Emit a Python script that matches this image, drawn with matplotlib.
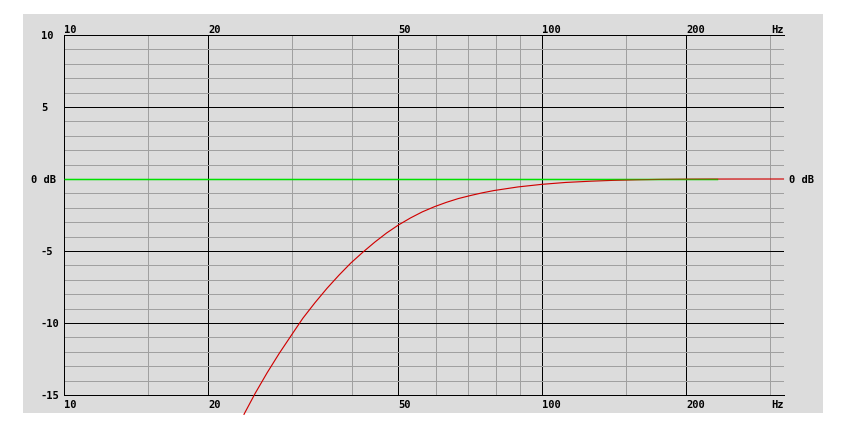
import matplotlib
matplotlib.use("Agg")
import matplotlib.pyplot as plt
import matplotlib.transforms as mtransforms
from matplotlib.patches import Rectangle
from matplotlib.ticker import FixedLocator

# ---- data ----
freq_hz = [23.8, 25.1, 26.6, 28.2, 29.9, 31.6, 33.5, 35.5, 37.6, 39.8, 42.2, 44.7,
           47.3, 50.1, 53.1, 56.2, 59.6, 63.1, 66.8, 70.8, 75.0, 79.4, 89.1, 100.0,
           112.0, 126.0, 141.0, 158.5, 178.0, 200.0, 224.0, 251.0, 320.0]
response_db = [-16.34, -14.90, -13.46, -12.11, -10.85, -9.67, -8.59, -7.59, -6.68, -5.84,
               -5.08, -4.38, -3.75, -3.19, -2.70, -2.28, -1.92, -1.62, -1.36, -1.15, -0.96,
               -0.80, -0.55, -0.37, -0.24, -0.155, -0.093, -0.052, -0.026, -0.011, -0.004,
               -0.0015, 0.0]
ref_freq = [10, 232]
ref_db = [0, 0]

x_major = [10, 20, 50, 100, 200]
x_minor = [15, 30, 40, 60, 70, 80, 90, 150, 300]
x_labels = ["10", "20", "50", "100", "200"]
y_major = [-15, -10, -5, 0, 5, 10]
y_minor = list(range(-15, 11))
y_labels = ["-15", "-10", "-5", "0 dB", "5", "10"]

W, H = 861, 432
fig = plt.figure(figsize=(W / 100, H / 100), dpi=100)
fig.patch.set_facecolor("white")

# gray panel
panel = Rectangle((23 / W, 1 - 413 / H), (823 - 23) / W, (413 - 14) / H,
                  transform=fig.transFigure, facecolor="#dcdcdc", edgecolor="none")
fig.add_artist(panel)
panel.set_zorder(-5)

ax = fig.add_axes([64 / W, 1 - 395 / H, 720 / W, 360 / H])
ax.set_zorder(2)
ax.set_facecolor("none")
ax.set_xscale("log")
ax.set_xlim(10, 320.8)
ax.set_ylim(-15, 10)

# the 0 dB row is drawn by the green reference line instead of a grid line
ax.xaxis.set_major_locator(FixedLocator(x_major))
ax.xaxis.set_minor_locator(FixedLocator(x_minor))
ax.yaxis.set_major_locator(FixedLocator([v for v in y_major if v != 0]))
ax.yaxis.set_minor_locator(FixedLocator([v for v in y_minor if v not in y_major]))
ax.tick_params(which="both", length=0, labelbottom=False, labelleft=False)
ax.xaxis.set_minor_formatter(plt.NullFormatter())

lw = 0.72
ax.grid(which="minor", color="#a0a0a0", linewidth=lw, antialiased=False)
ax.grid(which="major", color="black", linewidth=lw, antialiased=False)
ax.set_axisbelow(True)

for side in ["left", "top", "bottom"]:
    ax.spines[side].set_color("black")
    ax.spines[side].set_linewidth(lw)
ax.spines["right"].set_visible(False)

green = "#00e000"
ax.plot(ref_freq, ref_db, color=green, linewidth=1.0, zorder=2.5)
ax.plot(freq_hz, response_db, color="#d00000", linewidth=lw * 1.15, clip_on=False, zorder=3)
ax.plot(ref_freq, ref_db, color=green, linewidth=1.0, alpha=0.45, zorder=4)

# pixel transform (top-left origin)
pix = mtransforms.Affine2D().scale(1 / W, -1 / H).translate(0, 1) + fig.transFigure
font = dict(family="DejaVu Sans Mono", fontsize=7.5, fontweight="bold", color="black")

xtop = mtransforms.blended_transform_factory(ax.transData, pix)
for v, lab in zip(x_major, x_labels):
    ax.text(v, 33, lab, transform=xtop, ha="left", va="baseline", **font)
    ax.text(v, 407.5, lab, transform=xtop, ha="left", va="baseline", **font)
ax.text(784, 33, "Hz", transform=pix, ha="right", va="baseline", **font)
ax.text(784, 407.5, "Hz", transform=pix, ha="right", va="baseline", **font)

yleft = mtransforms.blended_transform_factory(pix, ax.transData)
for v, lab in zip(y_major, y_labels):
    xpos = 31 if lab == "0 dB" else 41
    ax.text(xpos, v, lab, transform=yleft, ha="left", va="center_baseline", **font)
ax.text(789, 0, "0 dB", transform=yleft, ha="left", va="center_baseline", **font)

fig.savefig("out.png", dpi=100, facecolor="white")
